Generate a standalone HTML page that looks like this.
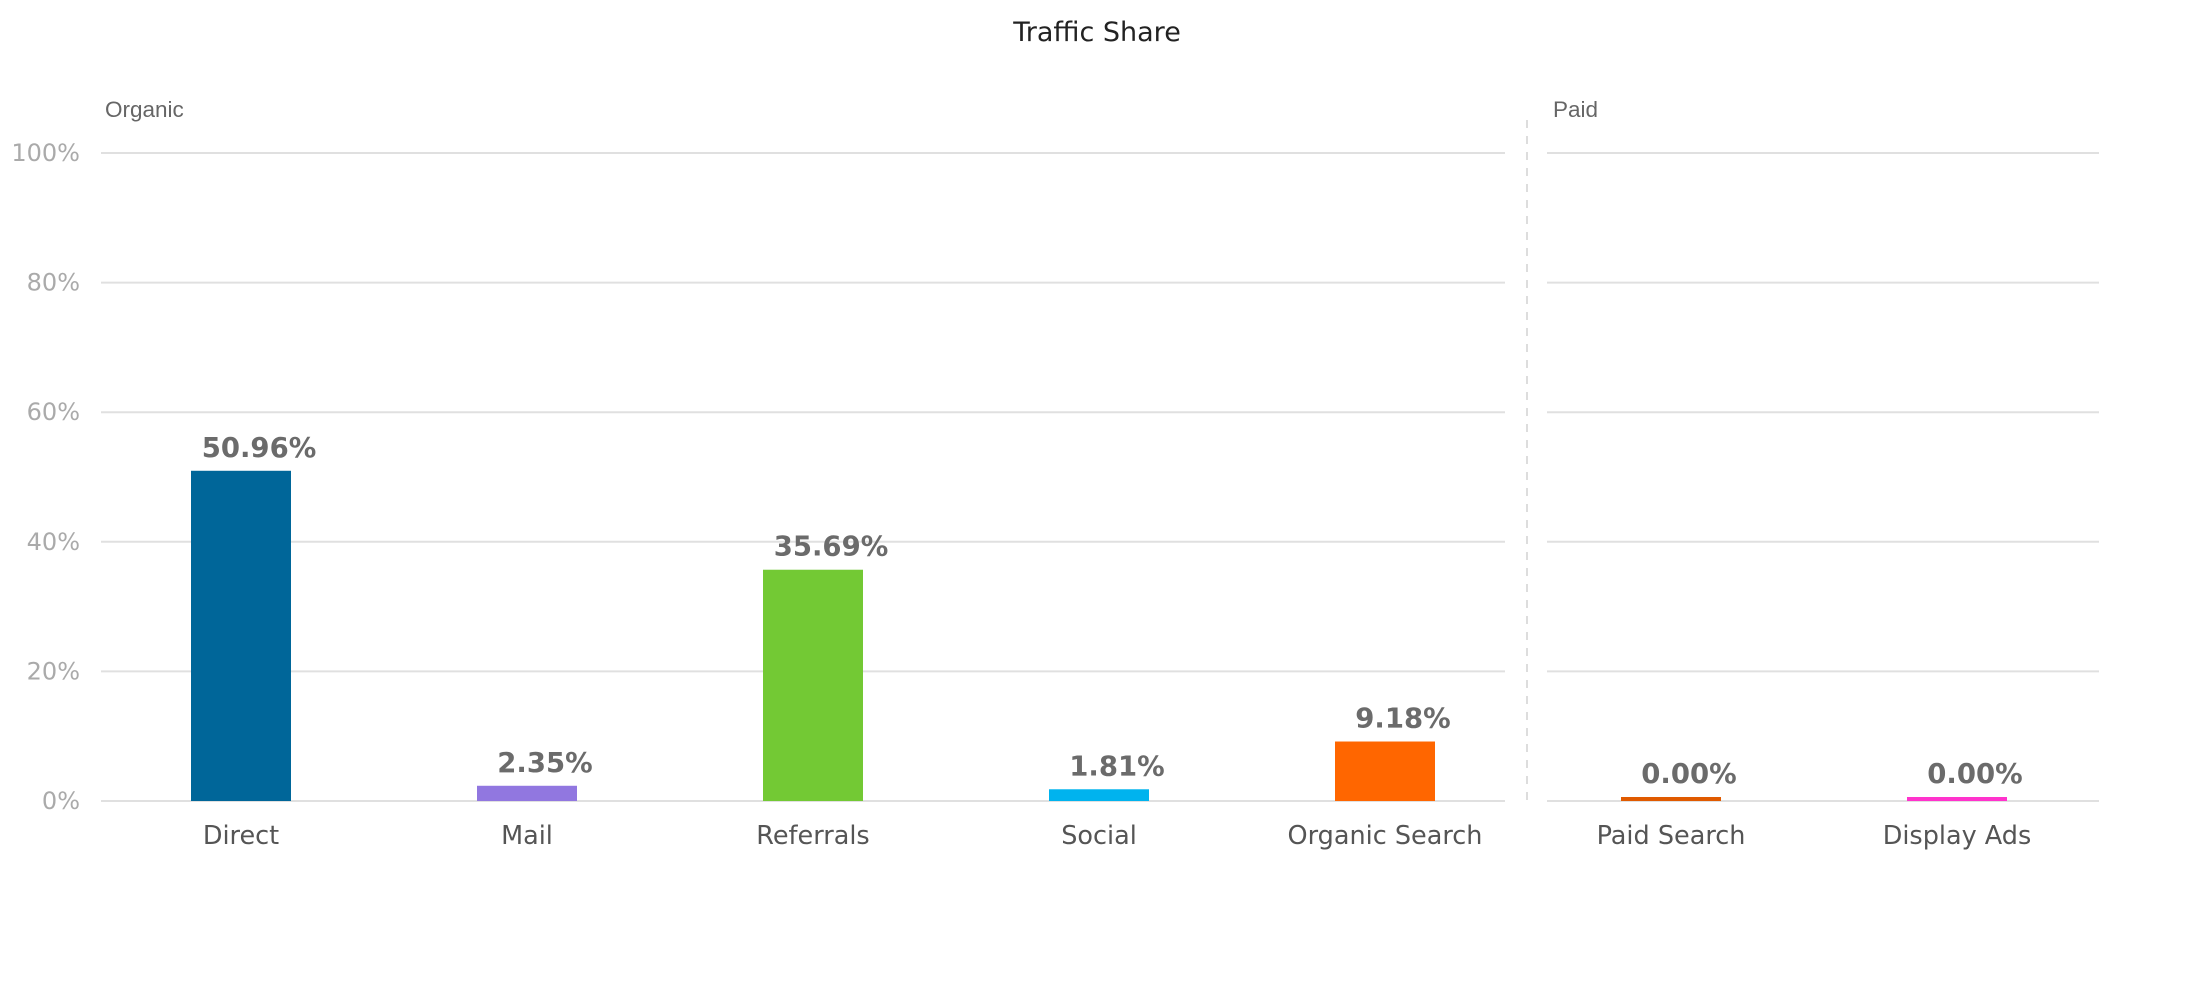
<!DOCTYPE html>
<html><head><meta charset="utf-8"><style>
html,body{margin:0;padding:0;background:#fff;}
svg{display:block;font-family:"DejaVu Sans",sans-serif;}
</style></head><body>
<svg id="chart" width="2200" height="1000" viewBox="0 0 2200 1000">
<text x="1097" y="41" text-anchor="middle" font-size="27" fill="#222">Traffic Share</text>
<text x="105" y="117" font-size="22.5" fill="#666" font-family="Liberation Sans, sans-serif">Organic</text>
<text x="1553" y="117" font-size="22.5" fill="#666" font-family="Liberation Sans, sans-serif">Paid</text>
<line x1="1527" y1="120" x2="1527" y2="805" stroke="#ddd" stroke-width="2" stroke-dasharray="8,8"/>
<g id="grid"></g><g id="bars"></g><g id="labels"></g>
</svg>
<script>
const categories = ["Direct","Mail","Referrals","Social","Organic Search","Paid Search","Display Ads"];
const values = [50.96,2.35,35.69,1.81,9.18,0.00,0.00];
const colors = ["#006699","#9177e0","#73c934","#00b3ee","#ff6600","#e05a00","#ff33cc"];
const yTicks = [0,20,40,60,80,100];
const yTickLabels = ["0%","20%","40%","60%","80%","100%"];
const NS="http://www.w3.org/2000/svg";
const y0=801, y100=153;
function yScale(v){return y0-(y0-y100)*v/100;}
function xScale(i){return 241+i*286;}
const panelX=[[101,1505],[1547,2099]];
function mk(t,a,p){const e=document.createElementNS(NS,t);for(const k in a)e.setAttribute(k,a[k]);p.appendChild(e);return e;}
const grid=document.getElementById('grid'),bars=document.getElementById('bars'),labels=document.getElementById('labels');
yTicks.forEach((t,i)=>{
  panelX.forEach((px,j)=>{
    const l=mk('line',{x1:px[0],x2:px[1],y1:yScale(t),y2:yScale(t),stroke:'#e0e0e0','stroke-width':2},grid);
    
    
  });
  const tx=mk('text',{x:80,y:yScale(t)+8,'text-anchor':'end','font-size':24,fill:'#aaa'},grid);
  tx.textContent=yTickLabels[i];
  
  
});
categories.forEach((c,i)=>{
  const cx=xScale(i), w=100;
  let h=y0-yScale(values[i]); if(h<4) h=4;
  const r=mk('rect',{x:cx-w/2,y:y0-h,width:w,height:h,fill:colors[i]},bars);
  
  
  const v=mk('text',{x:cx+18,y:y0-h-14,'text-anchor':'middle','font-size':27.5,'font-weight':'bold',fill:'#6b6b6b'},labels);
  v.textContent=values[i].toFixed(2)+'%';
  
  
  const cl=mk('text',{x:cx,y:844,'text-anchor':'middle','font-size':25.5,fill:'#555'},labels);
  cl.textContent=c;
  
  
});
</script>
</body></html>
